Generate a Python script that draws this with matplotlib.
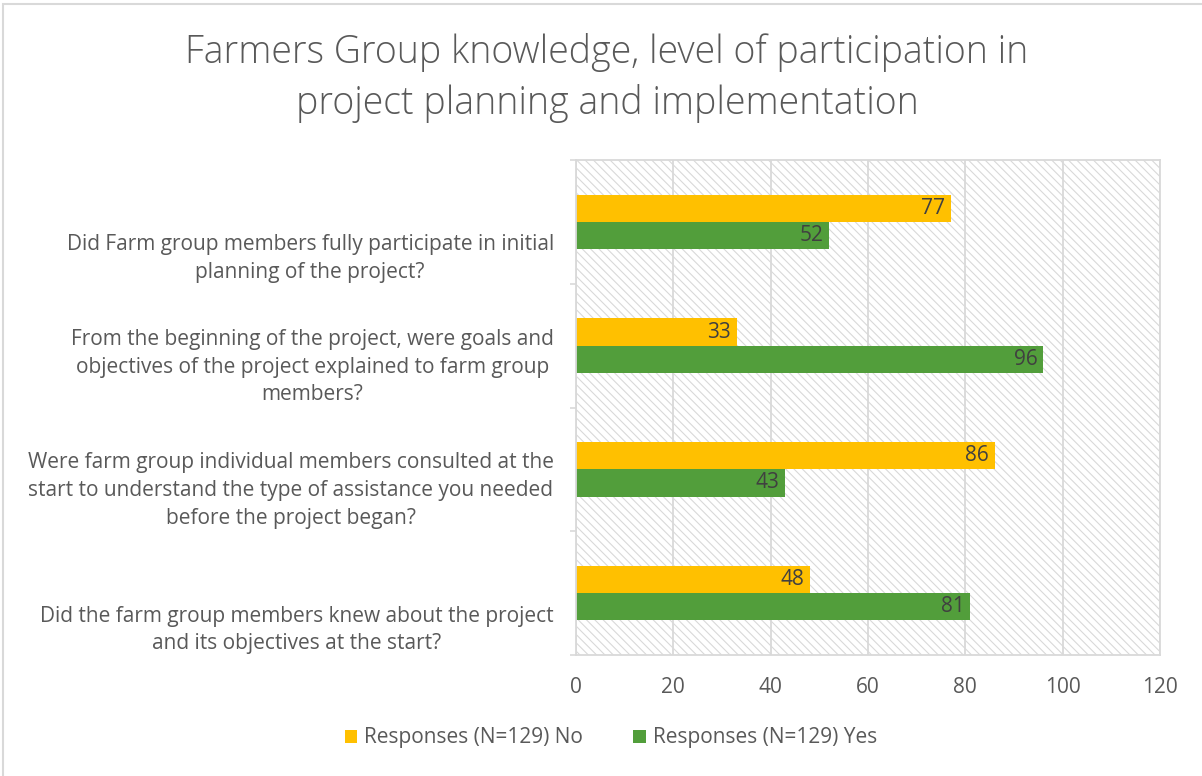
import matplotlib
matplotlib.use("Agg")
import matplotlib.pyplot as plt
from matplotlib.patches import Rectangle
import numpy as np

plt.rcParams['font.family'] = ['Open Sans', 'DejaVu Sans']
plt.rcParams['hatch.linewidth'] = 0.8

# data
questions = [
    "Did Farm group members fully participate in initial\nplanning of the project?",
    "From the beginning of the project, were goals and\nobjectives of the project explained to farm group\nmembers?",
    "Were farm group individual members consulted at the\nstart to understand the type of assistance you needed\nbefore the project began?",
    "Did the farm group members knew about the project\nand its objectives at the start?",
]
no_vals = [77, 33, 86, 48]
yes_vals = [52, 96, 43, 81]
series_names = ["Responses (N=129) No", "Responses (N=129) Yes"]
xticks = [0, 20, 40, 60, 80, 100, 120]

c_no = '#FFC000'
c_yes = '#529E3B'
grey_line = '#d9d9d9'
grey_text = '#595959'

fig = plt.figure(figsize=(12.02, 7.76), dpi=100)
ax = fig.add_axes([576/1202, 1-655/776, (1160-576)/1202, (655-160)/776])

# hatched plot area
ax.add_patch(Rectangle((0, 0), 1, 1, transform=ax.transAxes, facecolor='white',
                       edgecolor=grey_line, hatch='\\\\\\\\', lw=0, zorder=0))

y = np.arange(len(questions))
h = 0.22
b_no = ax.barh(y - h/2, no_vals, height=h, color=c_no, zorder=2, label=series_names[0])
b_yes = ax.barh(y + h/2, yes_vals, height=h, color=c_yes, zorder=2, label=series_names[1])

for bars in (b_no, b_yes):
    for r in bars:
        w = r.get_width()
        ax.annotate(str(int(w)), (w, r.get_y() + r.get_height()/2), xytext=(-4, 0),
                    textcoords='offset points', ha='right', va='center',
                    fontsize=15, color='#404040', zorder=3)

ax.set_xlim(0, 120)
ax.set_ylim(len(questions) - 0.5, -0.5)
ax.set_xticks(xticks)
ax.tick_params(axis='x', length=0, pad=16, labelsize=15, labelcolor=grey_text)

# category boundary ticks
ax.set_yticks(np.arange(-0.5, len(questions)), labels=[''] * (len(questions) + 1))
ax.tick_params(axis='y', which='major', length=4.5, width=1.2, color=grey_line)
# category labels (excel drops them a little lower)
nlines = [q.count('\n') + 1 for q in questions]
ax.set_yticks([i + (4 - n) * 0.125 for i, n in enumerate(nlines)], labels=questions, minor=True)
ax.tick_params(axis='y', which='minor', length=0, pad=16, labelsize=15, labelcolor=grey_text)
for lab in ax.get_yticklabels(minor=True):
    lab.set_multialignment('center')
    lab.set_linespacing(1.43)

ax.set_axisbelow(True)
ax.xaxis.grid(True, color=grey_line, lw=1.3)
for s in ax.spines.values():
    s.set_color(grey_line)
    s.set_linewidth(1.3)

fig.text(607/1202, 1-78/776,
         "Farmers Group knowledge, level of participation in\nproject planning and implementation",
         ha='center', va='center', fontsize=27, color=grey_text, fontweight='light',
         linespacing=1.38)

fig.legend(handles=[b_no, b_yes], labels=series_names, loc='center',
           bbox_to_anchor=(611/1202, 1-738/776), ncol=2, frameon=False,
           handlelength=0.6, handleheight=0.6, handletextpad=0.35, columnspacing=2.4,
           fontsize=15, labelcolor=grey_text)

# chart border
fig.patches.append(Rectangle((3/1202, -0.05), 1.1, 1 - 4/776 + 0.05, transform=fig.transFigure,
                             fill=False, edgecolor=grey_line, lw=1.5))

fig.savefig('out.png', dpi=100)
